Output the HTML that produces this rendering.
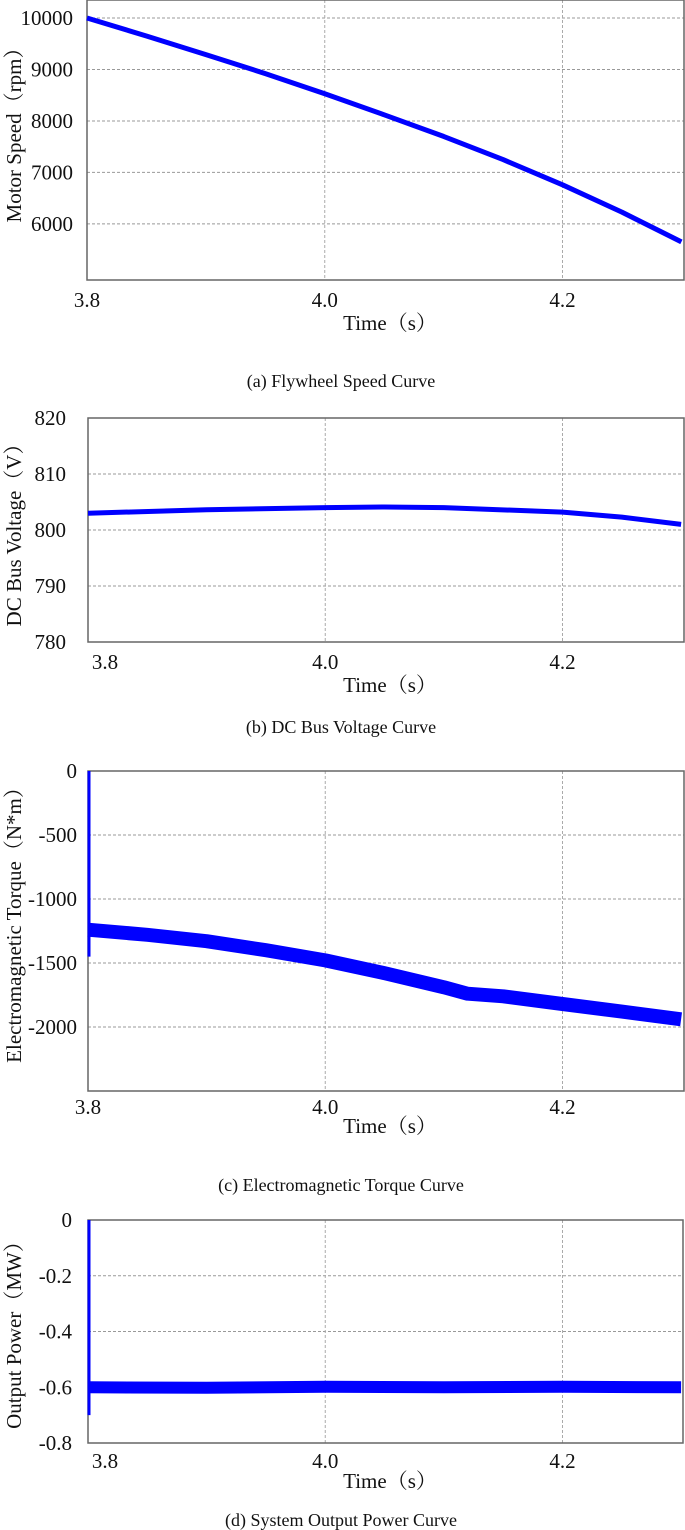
<!DOCTYPE html>
<html><head><meta charset="utf-8"><style>
body{margin:0;background:#fff}
svg{display:block}
text{font-family:"Liberation Serif","Noto Serif CJK SC",serif;fill:#111}
</style></head><body>
<svg id="s" width="685" height="1530" xmlns="http://www.w3.org/2000/svg" font-family="Liberation Serif, Noto Serif CJK SC, serif"></svg>
<script>
const NS="http://www.w3.org/2000/svg";
const xTicks=[3.8,4.0,4.2];
const xTickLabels=["3.8","4.0","4.2"];
// (a) speed
const speedT=[3.8,3.85,3.9,3.95,4.0,4.05,4.1,4.15,4.2,4.25,4.3];
const speedV=[10000,9650,9290,8920,8530,8120,7700,7250,6760,6230,5650];
// (b) voltage
const speedTicks=[6000,7000,8000,9000,10000];
const voltT=[3.8,3.9,4.0,4.05,4.1,4.2,4.25,4.3];
const voltV=[803,803.6,804,804.1,804,803.2,802.3,801];
const voltTicks=[780,790,800,810,820];
// (c) torque
const torqT=[3.8,3.85,3.9,3.95,4.0,4.05,4.1,4.12,4.15,4.2,4.25,4.3];
const torqV=[-1240,-1280,-1330,-1400,-1480,-1580,-1690,-1740,-1760,-1820,-1880,-1940];
const torqTicks=[0,-500,-1000,-1500,-2000];
// (d) power
const powT=[3.8,3.9,4.0,4.1,4.2,4.3];
const powV=[-0.6,-0.602,-0.598,-0.6,-0.598,-0.6];
const powTicks=[0,-0.2,-0.4,-0.6,-0.8];

const svg=document.getElementById('s');
function el(tag,attrs,parent){const e=document.createElementNS(NS,tag);for(const k in attrs)e.setAttribute(k,attrs[k]);(parent||svg).appendChild(e);return e;}
const FF='Liberation Serif, Noto Serif CJK SC, serif';

function chart(o){
  const g=el('g',{});
  
  
  const L=o.L,R=o.R,T=o.T,B=o.B;
  const x=t=>L+(t-3.8)*(562.5-L)/0.4;
  const y=v=>B-(v-o.ymin)/(o.ymax-o.ymin)*(B-T);
  o.yTicks.forEach((v,i)=>{
    const yy=y(v);
    if(yy>T+2&&yy<B-2){const gl=el('line',{x1:L,x2:R,y1:yy,y2:yy,stroke:'#999','stroke-width':1,'stroke-dasharray':'3,2'},g);
      }
    const t=el('text',{x:o.yLabX,y:yy+7,'text-anchor':'end','font-size':21,'font-family':FF},g);
    t.textContent=o.yLabels[i];
    
  });
  xTicks.forEach((v,i)=>{
    const xx=x(v);
    if(xx>L+2){const gl=el('line',{x1:xx,x2:xx,y1:T,y2:B,stroke:'#aaa','stroke-width':1,'stroke-dasharray':'3,2'},g);
      }
    const t=el('text',{x:xx+(i===0?o.firstDx:0),y:o.xLabY,'text-anchor':'middle','font-size':21,'font-family':FF},g);
    t.textContent=xTickLabels[i];
    
  });
  const fr=el('rect',{x:L,y:T,width:R-L,height:B-T,fill:'none',stroke:'#666','stroke-width':1.5},g);
  
  const d=o.ts.map((t,i)=>(i?'L':'M')+x(t).toFixed(1)+','+y(o.vs[i]).toFixed(1)).join('');
  const p=el('path',{d:d,fill:'none',stroke:'#0000ff','stroke-width':o.sw,'stroke-linejoin':'round'},g);
  
  if(o.spike){
    const sp=el('line',{x1:x(3.8)+1,x2:x(3.8)+1,y1:y(o.spike[0]),y2:y(o.spike[1]),stroke:'#0000ff','stroke-width':3},g);
    
  }
  const xt=el('text',{x:390,y:o.xTitleY,'text-anchor':'middle','font-size':21,'font-family':FF},g);
  xt.textContent='Time（s）';
  
  const yt=el('text',{x:0,y:0,'text-anchor':'middle','font-size':21,'font-family':FF,transform:`translate(${o.yTitleX},${o.yTitleY}) rotate(-90)`},g);
  yt.textContent=o.yTitle;
  
  const cp=el('text',{x:341,y:o.capY,'text-anchor':'middle','font-size':18,'font-family':FF},g);
  cp.textContent=o.caption;
  
}

chart({name:'speed-chart',L:87,R:684,T:0,B:280,ymin:4910,ymax:10350,yTicks:speedTicks,yLabels:speedTicks.map(String),
  yLabX:73,xLabY:307,firstDx:0,xTitleY:330,yTitleX:21,yTitleY:130,yTitle:'Motor Speed（rpm）',
  caption:'(a) Flywheel Speed Curve',capY:387,ts:speedT,vs:speedV,sw:5});
chart({name:'voltage-chart',L:88,R:684,T:418,B:642,ymin:780,ymax:820,yTicks:voltTicks,yLabels:voltTicks.map(String),
  yLabX:66,xLabY:669,firstDx:17,xTitleY:692,yTitleX:21,yTitleY:530,yTitle:'DC Bus Voltage（V）',
  caption:'(b) DC Bus Voltage Curve',capY:733,ts:voltT,vs:voltV,sw:5});
chart({name:'torque-chart',L:88,R:684,T:771,B:1091,ymin:-2500,ymax:0,yTicks:torqTicks,yLabels:torqTicks.map(String),
  yLabX:77,xLabY:1114,firstDx:0,xTitleY:1133,yTitleX:21,yTitleY:920,yTitle:'Electromagnetic Torque（N*m）',
  caption:'(c) Electromagnetic Torque Curve',capY:1191,ts:torqT,vs:torqV,sw:14,spike:[0,-1450]});
chart({name:'power-chart',L:88,R:683,T:1220,B:1443,ymin:-0.8,ymax:0,yTicks:powTicks,yLabels:['0','-0.2','-0.4','-0.6','-0.8'],
  yLabX:72,xLabY:1468,firstDx:17,xTitleY:1488,yTitleX:21,yTitleY:1330,yTitle:'Output Power（MW）',
  caption:'(d) System Output Power Curve',capY:1526,ts:powT,vs:powV,sw:12,spike:[0,-0.7]});
</script>
</body></html>
